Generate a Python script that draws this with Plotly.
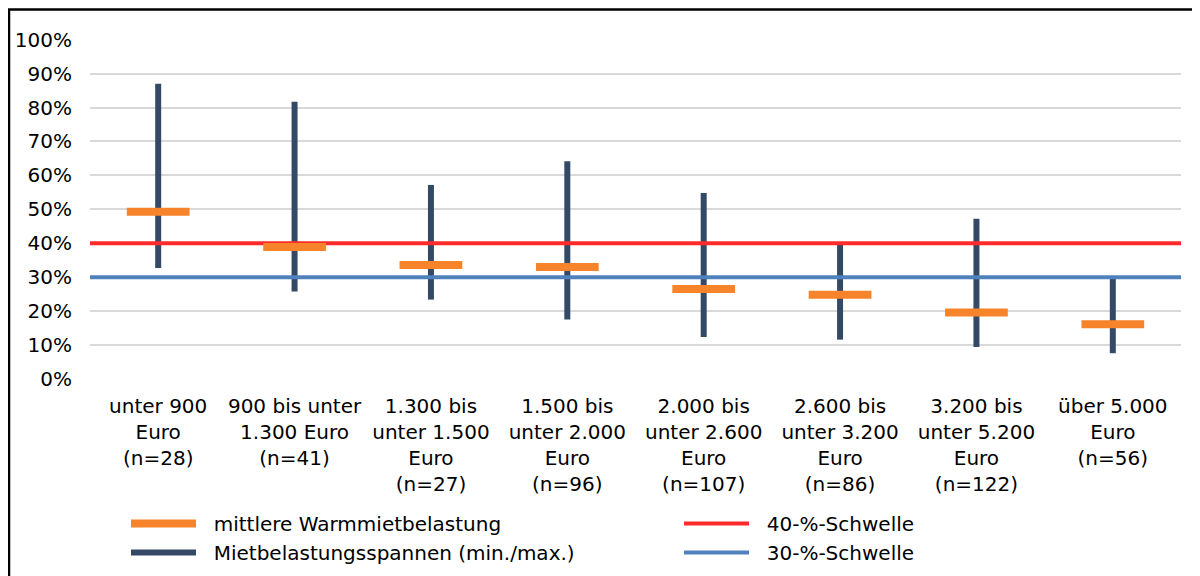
import plotly.graph_objects as go

categories = [
    "unter 900<br>Euro<br>(n=28)",
    "900 bis unter<br>1.300 Euro<br>(n=41)",
    "1.300 bis<br>unter 1.500<br>Euro<br>(n=27)",
    "1.500 bis<br>unter 2.000<br>Euro<br>(n=96)",
    "2.000 bis<br>unter 2.600<br>Euro<br>(n=107)",
    "2.600 bis<br>unter 3.200<br>Euro<br>(n=86)",
    "3.200 bis<br>unter 5.200<br>Euro<br>(n=122)",
    "über 5.000<br>Euro<br>(n=56)",
]
mean_values = [0.493, 0.389, 0.336, 0.330, 0.265, 0.248, 0.196, 0.161]
min_values = [0.327, 0.258, 0.234, 0.175, 0.124, 0.116, 0.094, 0.076]
max_values = [0.870, 0.817, 0.572, 0.642, 0.548, 0.401, 0.472, 0.297]
threshold_40 = 0.40
threshold_30 = 0.30
y_ticks = [0, 0.1, 0.2, 0.3, 0.4, 0.5, 0.6, 0.7, 0.8, 0.9, 1.0]
y_ticktext = ["0%", "10%", "20%", "30%", "40%", "50%", "60%", "70%", "80%", "90%", "100%"]

ORANGE = "#F7832A"
NAVY = "#344966"
RED = "#FF2B2B"
BLUE = "#4F81BD"
FONT = "DejaVu Sans"
PAD = "&nbsp;&nbsp;"

idx = list(range(len(categories)))
half = 0.23

# range lines
rx, ry = [], []
for i, lo, hi in zip(idx, min_values, max_values):
    rx += [i, i, None]
    ry += [lo, hi, None]

# mean bars
mx, my = [], []
for i, m in zip(idx, mean_values):
    mx += [i - half, i + half, None]
    my += [m, m, None]

fig = go.Figure()
fig.add_trace(go.Scatter(x=rx, y=ry, mode="lines", line=dict(color=NAVY, width=6),
                         name=PAD + "Mietbelastungsspannen (min./max.)",
                         legend="legend", legendrank=2))
fig.add_trace(go.Scatter(x=[-0.5, 7.5], y=[threshold_40, threshold_40], mode="lines",
                         line=dict(color=RED, width=4), name=PAD + "40-%-Schwelle",
                         legend="legend2", legendrank=1))
fig.add_trace(go.Scatter(x=[-0.5, 7.5], y=[threshold_30, threshold_30], mode="lines",
                         line=dict(color=BLUE, width=4), name=PAD + "30-%-Schwelle",
                         legend="legend2", legendrank=2))
fig.add_trace(go.Scatter(x=mx, y=my, mode="lines", line=dict(color=ORANGE, width=8),
                         name=PAD + "mittlere Warmmietbelastung",
                         legend="legend", legendrank=1))

# figure is placed at an 8px page offset
L, R, T, B = 82, 19, 31, 197
W, H = 1192, 568
pw, ph = W - L - R, H - T - B
plot_bottom = H - B

def px(xf):
    return (xf - L) / pw

def py(yf):
    return (plot_bottom - yf) / ph

legend_common = dict(orientation="v", xanchor="left", yanchor="top",
                     itemwidth=65, font=dict(size=20), traceorder="normal",
                     bgcolor="rgba(0,0,0,0)", borderwidth=0)

fig.update_layout(
    width=W, height=H,
    margin=dict(l=L, r=R, t=T, b=B, pad=0, autoexpand=False),
    paper_bgcolor="white", plot_bgcolor="white",
    font=dict(family=FONT, size=20, color="black"),
    xaxis=dict(range=[-0.5, 7.5], tickmode="array", tickvals=idx, ticktext=categories,
               showgrid=False, zeroline=False, showline=False, ticks="",
               tickfont=dict(size=20), ticklabelstandoff=13, fixedrange=True),
    yaxis=dict(range=[0, 1.002], tickmode="array", tickvals=y_ticks, ticktext=y_ticktext,
               showgrid=True, gridcolor="#D9D9D9", gridwidth=2, zeroline=False,
               showline=False, ticks="", tickfont=dict(size=20), ticklabelstandoff=17),
    showlegend=True,
    legend=dict(x=px(118), y=py(496), **legend_common),
    legend2=dict(x=px(671), y=py(496), **legend_common),
    shapes=[dict(type="rect", xref="paper", yref="paper",
                 x0=px(1), x1=px(1202),
                 y0=py(580), y1=py(1.5),
                 line=dict(color="black", width=2.5), fillcolor="rgba(0,0,0,0)", layer="above")],
)

fig.write_html("out.html")
